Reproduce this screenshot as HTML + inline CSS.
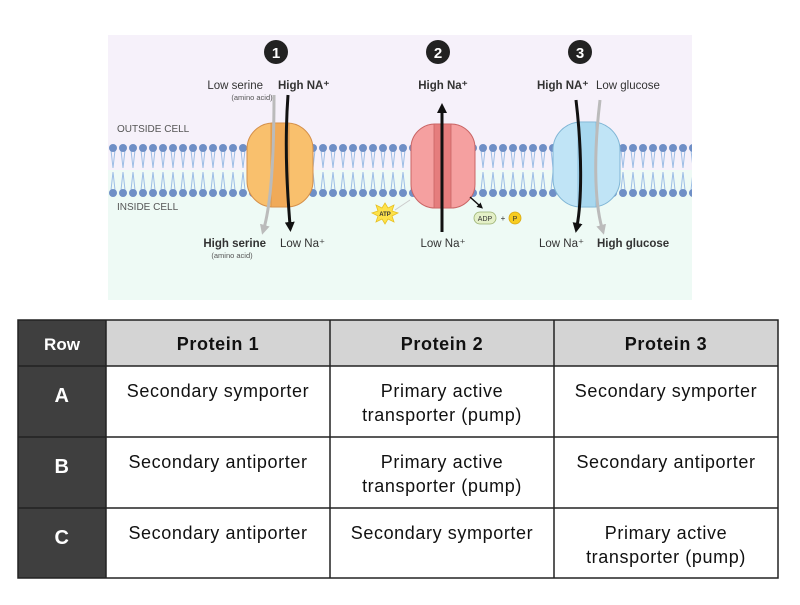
<!DOCTYPE html>
<html><head><style>
body{margin:0;background:#fff;}
svg text{font-family:"Liberation Sans",sans-serif;}
</style></head><body>
<svg width="800" height="600" viewBox="0 0 800 600" xmlns="http://www.w3.org/2000/svg">
<defs>
<pattern id="mem" x="108" y="140" width="10" height="60" patternUnits="userSpaceOnUse">
<path d="M3,10 L5,28 M7,10 L5,28 M3,50 L5,32 M7,50 L5,32" stroke="#9cbde6" stroke-width="1" fill="none"/>
<circle cx="5" cy="8" r="4" fill="#6f8fc6"/>
<circle cx="5" cy="53" r="4" fill="#6f8fc6"/>
</pattern>
<marker id="ab" markerUnits="userSpaceOnUse" markerWidth="10" markerHeight="10" refX="3" refY="5" orient="auto"><path d="M0,0 L10,5 L0,10 Z" fill="#111"/></marker>
<marker id="ag" markerUnits="userSpaceOnUse" markerWidth="10" markerHeight="10" refX="3" refY="5" orient="auto"><path d="M0,0 L10,5 L0,10 Z" fill="#bbb"/></marker>
<marker id="as" markerUnits="userSpaceOnUse" markerWidth="6" markerHeight="6" refX="2" refY="3" orient="auto"><path d="M0,0 L6,3 L0,6 Z" fill="#111"/></marker>
</defs>
<rect x="108" y="35" width="584" height="135" fill="#f6f1fa"/>
<rect x="108" y="170" width="584" height="130" fill="#eefaf5"/>
<rect x="108" y="140" width="584" height="60" fill="url(#mem)"/>

<circle cx="276" cy="52" r="12" fill="#222"/><text x="276" y="58" font-size="15" font-weight="bold" fill="#fff" text-anchor="middle">1</text>
<circle cx="438" cy="52" r="12" fill="#222"/><text x="438" y="58" font-size="15" font-weight="bold" fill="#fff" text-anchor="middle">2</text>
<circle cx="580" cy="52" r="12" fill="#222"/><text x="580" y="58" font-size="15" font-weight="bold" fill="#fff" text-anchor="middle">3</text>

<rect x="247" y="123" width="66" height="84" rx="26" fill="#f9c06d" stroke="#d48f4a"/>
<rect x="271" y="123" width="18" height="84" fill="#f0aa58" stroke="#d48f4a" stroke-width="0.8"/>
<path d="M274,95 C274,150 272,200 264,228" stroke="#bbb" stroke-width="3" fill="none" marker-end="url(#ag)"/>
<path d="M288,95 C284,150 288,200 290,225" stroke="#111" stroke-width="3" fill="none" marker-end="url(#ab)"/>

<rect x="411" y="124" width="64" height="84" rx="24" fill="#f5a0a0" stroke="#c96565"/>
<rect x="434" y="124" width="17" height="84" fill="#e57d7d" stroke="#c96565" stroke-width="0.8"/>
<path d="M442,232 L442,110" stroke="#111" stroke-width="3" marker-end="url(#ab)"/>
<path d="M470,197 L480,206" stroke="#111" stroke-width="1.5" marker-end="url(#as)"/>
<path d="M395,210 L410,200" stroke="#ccc" stroke-width="1"/>

<rect x="553" y="122" width="67" height="85" rx="28" fill="#c0e4f6" stroke="#7fb5d5"/>
<rect x="578" y="122" width="18" height="85" fill="#a8d8ef" stroke="#7fb5d5" stroke-width="0.8"/>
<path d="M576,100 C582,150 582,200 577,226" stroke="#111" stroke-width="3" fill="none" marker-end="url(#ab)"/>
<path d="M600,100 C594,150 594,200 602,228" stroke="#bbb" stroke-width="3" fill="none" marker-end="url(#ag)"/>

<polygon points="385,203 388,208 394,205 392,211 398,213 392,216 394,222 388,219 385,224 382,219 376,222 378,216 372,213 378,211 376,205 382,208" fill="#fde24a" stroke="#e8c020" stroke-width="0.8"/>
<text x="385" y="216" font-size="6" font-weight="bold" text-anchor="middle" fill="#333">ATP</text>
<rect x="474" y="212" width="22" height="12" rx="6" fill="#e4f0c8" stroke="#9ab070" stroke-width="0.8"/>
<text x="485" y="221" font-size="7" text-anchor="middle" fill="#333">ADP</text>
<text x="503" y="221" font-size="8" text-anchor="middle" fill="#333">+</text>
<circle cx="515" cy="218" r="6" fill="#f7cc20" stroke="#d8a810" stroke-width="0.8"/>
<text x="515" y="221" font-size="7" text-anchor="middle" fill="#333">P</text>

<g font-size="11.5" fill="#333">
<text x="263" y="89" text-anchor="end">Low serine</text>
<text x="252" y="100" font-size="7.5" text-anchor="middle" fill="#555">(amino acid)</text>
<text x="278" y="89" font-weight="bold">High NA⁺</text>
<text x="117" y="132" font-size="10" fill="#555">OUTSIDE CELL</text>
<text x="117" y="210" font-size="10" fill="#555">INSIDE CELL</text>
<text x="266" y="247" text-anchor="end" font-weight="bold">High serine</text>
<text x="232" y="258" font-size="7.5" text-anchor="middle" fill="#555">(amino acid)</text>
<text x="280" y="247">Low Na⁺</text>
<text x="443" y="89" text-anchor="middle" font-weight="bold">High Na⁺</text>
<text x="443" y="247" text-anchor="middle">Low Na⁺</text>
<text x="537" y="89" font-weight="bold">High NA⁺</text>
<text x="596" y="89">Low glucose</text>
<text x="539" y="247">Low Na⁺</text>
<text x="597" y="247" font-weight="bold">High glucose</text>
</g>

<rect x="18" y="320" width="88" height="258" fill="#3f3f3f"/>
<rect x="106" y="320" width="672" height="46" fill="#d4d4d4"/>
<g stroke="#222" stroke-width="1.5" fill="none">
<rect x="18" y="320" width="760" height="258"/>
<line x1="18" y1="366" x2="778" y2="366"/>
<line x1="18" y1="437" x2="778" y2="437"/>
<line x1="18" y1="508" x2="778" y2="508"/>
<line x1="106" y1="320" x2="106" y2="578"/>
<line x1="330" y1="320" x2="330" y2="578"/>
<line x1="554" y1="320" x2="554" y2="578"/>
</g>
<g font-size="18" letter-spacing="0.6" text-anchor="middle" fill="#111">
<text x="62" y="350" font-weight="bold" fill="#fff" font-size="17" letter-spacing="0">Row</text>
<text x="218" y="350" font-weight="bold">Protein 1</text>
<text x="442" y="350" font-weight="bold">Protein 2</text>
<text x="666" y="350" font-weight="bold">Protein 3</text>
<text x="62" y="402" font-weight="bold" fill="#fff" font-size="20">A</text>
<text x="62" y="473" font-weight="bold" fill="#fff" font-size="20">B</text>
<text x="62" y="544" font-weight="bold" fill="#fff" font-size="20">C</text>
<text x="218" y="397">Secondary symporter</text>
<text x="442" y="397">Primary active</text>
<text x="442" y="421">transporter (pump)</text>
<text x="666" y="397">Secondary symporter</text>
<text x="218" y="468">Secondary antiporter</text>
<text x="442" y="468">Primary active</text>
<text x="442" y="492">transporter (pump)</text>
<text x="666" y="468">Secondary antiporter</text>
<text x="218" y="539">Secondary antiporter</text>
<text x="442" y="539">Secondary symporter</text>
<text x="666" y="539">Primary active</text>
<text x="666" y="563">transporter (pump)</text>
</g>
</svg>
</body></html>
